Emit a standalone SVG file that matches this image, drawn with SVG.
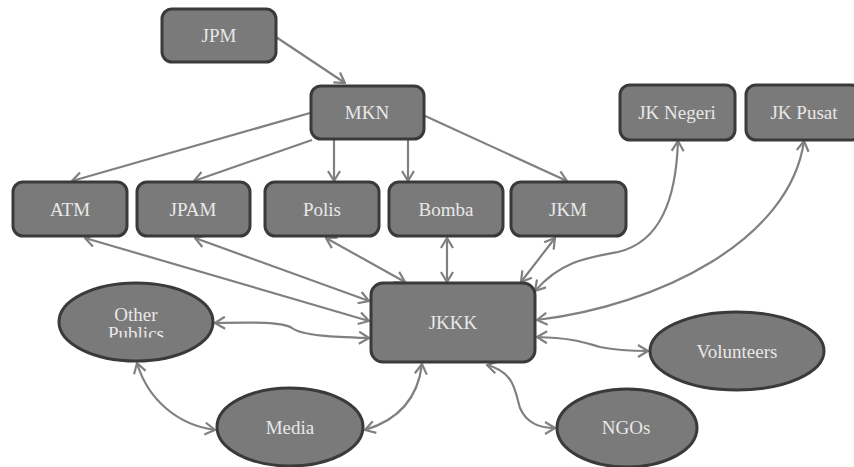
<svg xmlns="http://www.w3.org/2000/svg" width="854" height="467" viewBox="0 0 854 467">
<defs>
<style>
.n rect,.n ellipse{fill:#7a7a7a;stroke:#3a3a3a;stroke-width:3}
.n text{font-family:'Liberation Serif','DejaVu Serif',serif;font-size:19px;fill:#e8e8e8;text-anchor:middle}
#edges path{fill:none;stroke:#808080;stroke-width:2.2;marker-end:url(#ah)}
#edges path.b{marker-start:url(#ah)}
</style>
<marker id="ah" viewBox="0 0 12 14" refX="11" refY="7" markerWidth="12" markerHeight="14" markerUnits="userSpaceOnUse" orient="auto-start-reverse">
<path d="M1,1 L11,7 L1,13" fill="none" stroke="#808080" stroke-width="2.2"/>
</marker>
<clipPath id="cp"><rect x="0" y="0" width="854" height="337.5"/></clipPath>
</defs>
<g id="edges">
<path d="M276,37 L345,83"/>
<path d="M310,113 L72,181"/>
<path d="M312,140 L194,181"/>
<path d="M334,139 L334,181"/>
<path d="M408,139 L408,181"/>
<path d="M423,115 L567,181"/>
<path class="b" d="M85,238 L369,321"/>
<path class="b" d="M195,238 L369,301"/>
<path class="b" d="M326,238 L405,282"/>
<path class="b" d="M447,238 L447,282"/>
<path class="b" d="M555,238 L521,282"/>
<path class="b" d="M535,291 C560,262 585,258 618,252 C660,242 676,200 678,141"/>
<path class="b" d="M537,320 C660,305 790,240 804,141"/>
<path class="b" d="M537,337 C575,338 585,343 600,347 C615,350 630,351 648,351"/>
<path class="b" d="M487,365 C515,372 515,392 520,408 C527,424 540,428 555,428"/>
<path class="b" d="M422,364 C418,398 398,420 365,430"/>
<path class="b" d="M137,363 C148,400 178,425 215,430"/>
<path class="b" d="M215,323 C255,322 283,322 292,328 C302,336 338,337 369,338"/>
</g>
<g id="JPM" class="n"><rect x="162" y="9" width="114" height="53" rx="10"/><text x="219" y="42">JPM</text></g>
<g id="MKN" class="n"><rect x="311" y="86" width="113" height="53" rx="10"/><text x="367" y="119">MKN</text></g>
<g id="JKNegeri" class="n"><rect x="620" y="85" width="115" height="55" rx="10"/><text x="677" y="119">JK Negeri</text></g>
<g id="JKPusat" class="n"><rect x="746" y="85" width="115" height="55" rx="10"/><text x="804" y="119">JK Pusat</text></g>
<g id="ATM" class="n"><rect x="13" y="182" width="114" height="54" rx="10"/><text x="70" y="216">ATM</text></g>
<g id="JPAM" class="n"><rect x="137" y="182" width="113" height="54" rx="10"/><text x="193" y="216">JPAM</text></g>
<g id="Polis" class="n"><rect x="265" y="182" width="114" height="54" rx="10"/><text x="322" y="216">Polis</text></g>
<g id="Bomba" class="n"><rect x="389" y="182" width="114" height="54" rx="10"/><text x="446" y="216">Bomba</text></g>
<g id="JKM" class="n"><rect x="511" y="182" width="115" height="54" rx="10"/><text x="568" y="216">JKM</text></g>
<g id="JKKK" class="n"><rect x="371" y="283" width="164" height="79" rx="12"/><text x="453" y="329">JKKK</text></g>
<g id="OtherPublics" class="n"><ellipse cx="136" cy="322" rx="77" ry="39"/><text x="136" y="321">Other</text><text x="136" y="340" clip-path="url(#cp)">Publics</text></g>
<g id="Media" class="n"><ellipse cx="290" cy="427" rx="73" ry="39"/><text x="290" y="434">Media</text></g>
<g id="Volunteers" class="n"><ellipse cx="737" cy="351" rx="87" ry="39"/><text x="737" y="358">Volunteers</text></g>
<g id="NGOs" class="n"><ellipse cx="627" cy="428" rx="70" ry="39"/><text x="626" y="434">NGOs</text></g>
</svg>
